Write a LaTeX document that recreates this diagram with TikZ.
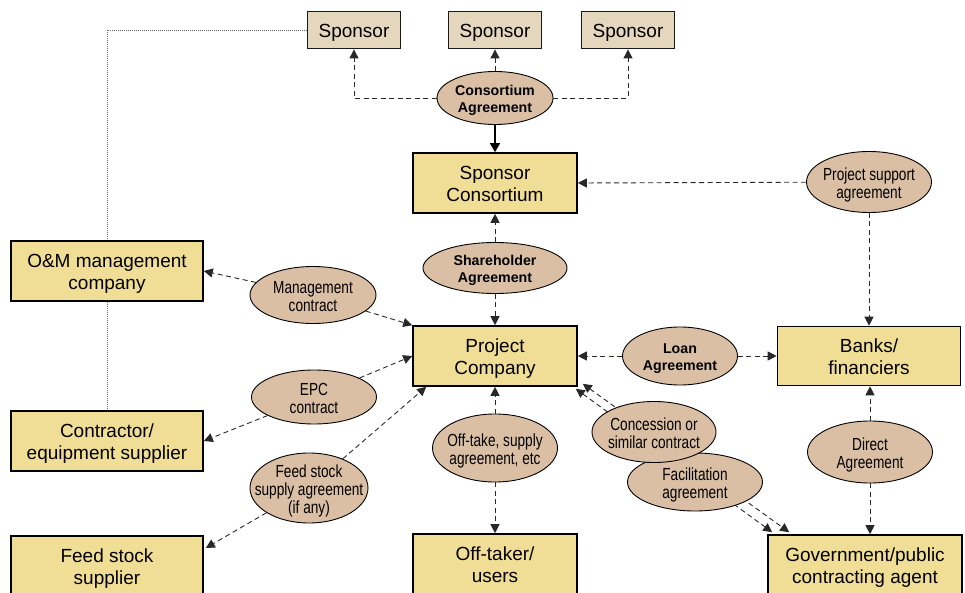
\documentclass[tikz,border=0pt]{standalone}
\usepackage{fontspec}
\setmainfont{Liberation Sans}
\newfontfamily\narrowfont[FakeStretch=0.78]{Liberation Sans}
\usetikzlibrary{shapes.geometric,arrows.meta,backgrounds,calc}
\definecolor{boxfill}{RGB}{240,222,150}
\definecolor{spfill}{RGB}{229,214,190}
\definecolor{ellfill}{RGB}{219,191,164}
\definecolor{dashcol}{RGB}{40,40,40}
% top / bottom struts for vertical centring
\newcommand{\bxa}{\rule{0pt}{21.6pt}}
\newcommand{\bxb}{\rule[-6pt]{0pt}{6pt}}
\newcommand{\ela}{\rule{0pt}{19.6pt}}
\newcommand{\elb}{\rule[-5pt]{0pt}{5pt}}
\newcommand{\bla}{\rule{0pt}{16.2pt}}
\newcommand{\blb}{\rule[-5pt]{0pt}{5pt}}
\tikzset{
  mainbox/.style={draw=black, line width=1.6pt, fill=boxfill, align=center, inner sep=0pt,
    font=\fontsize{19}{22}\selectfont},
  spbox/.style={draw=black!90, line width=1.8pt, fill=spfill, align=center, inner sep=0pt,
    minimum width=93pt, minimum height=37pt, font=\fontsize{19}{22}\selectfont},
  ell/.style={ellipse, draw=black, line width=0.9pt, fill=ellfill, inner sep=0pt},
  etext/.style={align=center, inner sep=0pt, font=\narrowfont\fontsize{17.5}{18}\selectfont},
  btext/.style={align=center, inner sep=0pt, font=\fontsize{14.2}{17}\selectfont\bfseries},
  arr/.style={draw=dashcol, line width=0.9pt, dash pattern=on 5pt off 3.5pt,
    -{Triangle[length=9pt,width=9pt]}},
  darr/.style={draw=dashcol, line width=0.9pt, dash pattern=on 5pt off 3.5pt,
    {Triangle[length=9pt,width=9pt]}-{Triangle[length=9pt,width=9pt]}},
  solidarr/.style={draw=black, line width=1.4pt, -{Triangle[length=9pt,width=10pt]}},
  dotline/.style={draw=black!60, line width=0.8pt, dash pattern=on 1pt off 1pt}
}
\begin{document}
\begin{tikzpicture}[x=1pt,y=-1pt]
\useasboundingbox (0,0) rectangle (965,593);
\clip (0,0) rectangle (965,593);
% boxes
\node[spbox] (sp1) at (354,30) {\bxa Sponsor\bxb};
\node[spbox] (sp2) at (495,30) {\bxa Sponsor\bxb};
\node[spbox] (sp3) at (628,30) {\bxa Sponsor\bxb};
\node[mainbox, minimum width=164pt, minimum height=60pt] (sc) at (495,183) {\bxa Sponsor\\Consortium\bxb};
\node[mainbox, minimum width=164pt, minimum height=60pt] (pc) at (495,356) {\bxa Project\\Company\bxb};
\node[mainbox, minimum width=183pt, minimum height=59pt] (banks) at (869,356) {\bxa Banks/\\financiers\bxb};
\node[mainbox, minimum width=194pt, minimum height=60pt] (gov) at (865,565) {\bxa Government/public\\contracting agent\bxb};
\node[mainbox, minimum width=164pt, minimum height=60pt] (ot) at (495,564) {\bxa Off-taker/\\users\bxb};
\node[mainbox, minimum width=192pt, minimum height=60pt] (om) at (107,271) {\bxa O\&M management\\company\bxb};
\node[mainbox, minimum width=192pt, minimum height=60pt] (contr) at (107,441) {\bxa Contractor/\\equipment supplier\bxb};
\node[mainbox, minimum width=192pt, minimum height=60pt] (fss) at (107,566) {\bxa Feed stock\\supplier\bxb};
% double arrows (behind ellipses)
\draw[darr] ($(pc.south east)+(-2,2)$) -- ($(gov.north west)+(5,-2)$);
\draw[darr] ($(pc.south east)+(5,-3)$) -- ($(gov.north west)+(22,-2)$);
% ellipses
\node[ell, minimum width=116pt, minimum height=53pt, label={[btext]center:\bla Consortium\\Agreement\blb}] (ca) at (495,98) {};
\node[ell, minimum width=144pt, minimum height=51pt, label={[btext]center:\bla Shareholder\\Agreement\blb}] (sha) at (495,268) {};
\node[ell, minimum width=115pt, minimum height=58pt, label={[btext]center:\bla Loan\\Agreement\blb}] (loan) at (680,356) {};
\node[ell, minimum width=125pt, minimum height=61pt, label={[etext]center:\ela Project support\\agreement\elb}] (psa) at (869,182) {};
\node[ell, minimum width=125pt, minimum height=62pt, label={[etext]center:\ela Direct\\Agreement\elb}] (da) at (870,452) {};
\node[ell, minimum width=135pt, minimum height=58pt, label={[etext]center:\ela Facilitation\\agreement\elb}] (fac) at (695,482) {};
\node[ell, minimum width=124pt, minimum height=61pt, label={[etext]center:\ela Concession or\\similar contract\elb}] (conc) at (654,432) {};
\node[ell, minimum width=125pt, minimum height=68pt, label={[etext]center:\ela Off-take, supply\\agreement, etc\elb}] (ota) at (495,448) {};
\node[ell, minimum width=126pt, minimum height=57pt, label={[etext]center:\ela Management\\contract\elb}] (mc) at (313,295) {};
\node[ell, minimum width=125pt, minimum height=54pt, label={[etext]center:\ela EPC\\contract\elb}] (epc) at (314,397) {};
\node[ell, minimum width=118pt, minimum height=70pt, label={[etext]center:\ela Feed stock\\supply agreement\\(if any)\elb}] (fs) at (309,488) {};
% connectors
\draw[arr] (ca.north) -- (sp2.south);
\draw[arr] (ca.west) -| (sp1.south);
\draw[arr] (ca.east) -| (sp3.south);
\draw[solidarr] (ca.south) -- (sc.north);
\draw[arr] (sha) -- (sc.south);
\draw[arr] (sha) -- (pc.north);
\draw[arr] (psa) -- (sc.east);
\draw[arr] (psa) -- (banks.north);
\draw[arr] (loan) -- (pc.east);
\draw[arr] (loan) -- (banks.west);
\draw[arr] (da.north) -- (da.north |- banks.south);
\draw[arr] (da.south) -- (da.south |- gov.north);
\draw[arr] (ota) -- (pc.south);
\draw[arr] (ota) -- (ot.north);
\draw[arr] (mc) -- (om.east);
\draw[arr] (mc) -- (pc.north west);
\draw[arr] (epc) -- (pc.west);
\draw[arr] (epc) -- (contr.east);
\coordinate (fsend) at ($(pc.south west)+(14,0)$);
\coordinate (fssend) at ($(fss.east)+(2,-18)$);
\draw[arr] (fs) -- (fsend);
\draw[arr] (fs) -- (fssend);
% dotted links
\begin{scope}[on background layer]
\draw[dotline] (sp1.west) -| (om.north);
\draw[dotline] (om.south) -- (contr.north);
\end{scope}
\end{tikzpicture}
\end{document}
